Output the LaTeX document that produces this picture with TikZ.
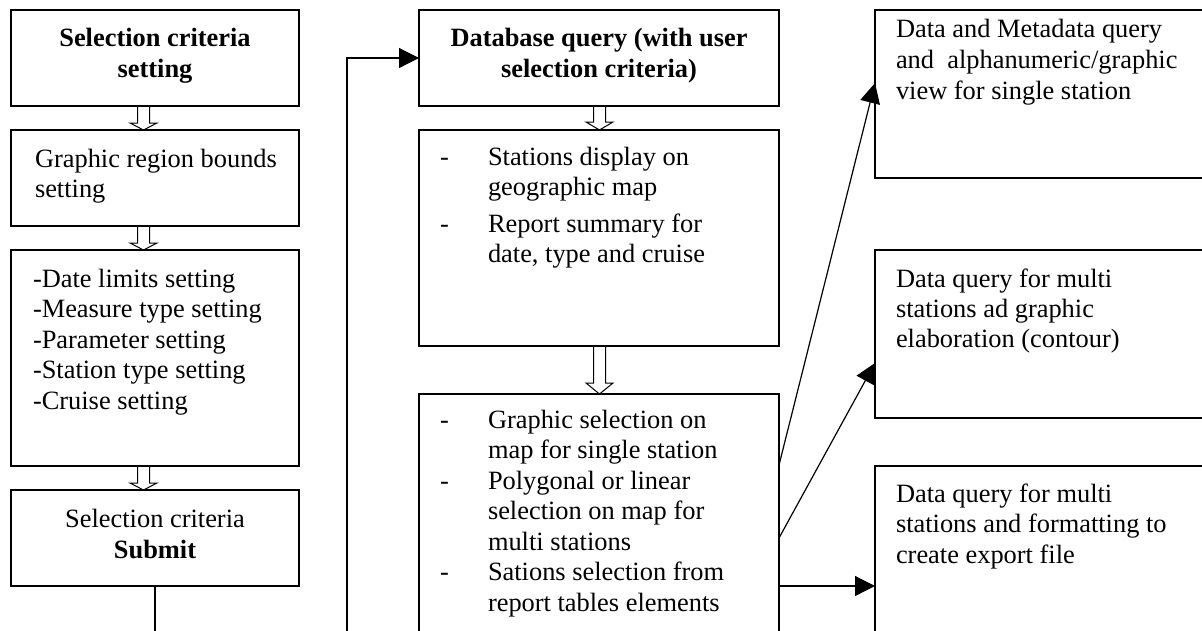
\documentclass[tikz,border=0pt]{standalone}
\usepackage{fontspec}
\setmainfont{Liberation Serif}
\usetikzlibrary{arrows.meta,calc}
\newcommand{\myfs}{\fontsize{26.4}{30.5}\selectfont}
\newcommand{\hollowarrow}[4]{%
  \draw[hol] let \p1=($(#1.south)+(#3,0)$), \p2=(#2.north) in
  (\x1-6pt,\y1) -- (\x1-6pt,\y2+#4pt) -- (\x1-13.5pt,\y2+#4pt) -- (\x1,\y2)
  -- (\x1+13.5pt,\y2+#4pt) -- (\x1+6pt,\y2+#4pt) -- (\x1+6pt,\y1);}
\begin{document}
\begin{tikzpicture}[x=1pt,y=-1pt,
  box/.style={draw, line width=1.2pt, rectangle, inner sep=0pt, outer sep=0pt},
  hol/.style={line width=1pt, line join=miter},
  conn/.style={line width=1.2pt},
  arr/.style={line width=1.2pt, -{Triangle[length=20pt,width=20pt]}},
  txt/.style={inner sep=0pt, outer sep=0pt, font=\myfs, anchor=base west},
  ctxt/.style={inner sep=0pt, outer sep=0pt, font=\myfs, anchor=base},
  btxt/.style={inner sep=0pt, outer sep=0pt, font=\myfs\bfseries, anchor=base}]
\useasboundingbox (0,0) rectangle (1202,630);
\clip (0,0) rectangle (1202,630);
\fill[white] (0,0) rectangle (1202,630);

% left column boxes
\node[box, minimum width=288pt, minimum height=96pt] (b1) at (155,58) {};
\node[box, minimum width=288pt, minimum height=96pt] (b2) at (155,178) {};
\node[box, minimum width=288pt, minimum height=216pt] (b3) at (155,358) {};
\node[box, minimum width=288pt, minimum height=96pt] (b4) at (155,538) {};

% middle column boxes
\node[box, minimum width=360pt, minimum height=96pt] (m1) at (599,58) {};
\node[box, minimum width=360pt, minimum height=216pt] (m2) at (599,238) {};
\node[box, minimum width=360pt, minimum height=266pt] (m3) at (599,527) {};

% right column boxes
\node[box, minimum width=345pt, minimum height=168pt] (r1) at (1047.5,94) {};
\node[box, minimum width=345pt, minimum height=168pt] (r2) at (1047.5,334) {};
\node[box, minimum width=345pt, minimum height=194pt] (r3) at (1047.5,563) {};

% texts left
\node[btxt] (t1a) at (155,46) {Selection criteria};
\node[btxt] (t1b) at (155,77) {setting};
\node[txt] (t2a) at (35,167) {Graphic region bounds};
\node[txt] (t2b) at (35,197.5) {setting};
\node[txt] (t3a) at (33,287) {-Date limits setting};
\node[txt] (t3b) at (33,317.5) {-Measure type setting};
\node[txt] (t3c) at (33,348) {-Parameter setting};
\node[txt] (t3d) at (33,378.5) {-Station type setting};
\node[txt] (t3e) at (33,409) {-Cruise setting};
\node[ctxt] (t4a) at (155,527) {Selection criteria};
\node[btxt] (t4b) at (155,558) {Submit};

% texts middle
\node[btxt] (u1a) at (599,46) {Database query (with user};
\node[btxt] (u1b) at (599,77) {selection criteria)};
\node[txt] (u2d1) at (440,165) {-};
\node[txt] (u2a) at (488,165) {Stations display on};
\node[txt] (u2b) at (488,195.5) {geographic map};
\node[txt] (u2d2) at (440,232) {-};
\node[txt] (u2c) at (488,232) {Report summary for};
\node[txt] (u2e) at (488,262.5) {date, type and cruise};
\node[txt] (u3d1) at (440,428) {-};
\node[txt] (u3a) at (488,428) {Graphic selection on};
\node[txt] (u3b) at (488,458.5) {map for single station};
\node[txt] (u3d2) at (440,489) {-};
\node[txt] (u3c) at (488,489) {Polygonal or linear};
\node[txt] (u3e) at (488,519.5) {selection on map for};
\node[txt] (u3f) at (488,550) {multi stations};
\node[txt] (u3d3) at (440,580.5) {-};
\node[txt] (u3g) at (488,580.5) {Sations selection from};
\node[txt] (u3h) at (488,611) {report tables elements};

% texts right
\node[txt] (v1a) at (896,37) {Data and Metadata query};
\node[txt] (v1b) at (896,68) {and\ \ alphanumeric/graphic};
\node[txt] (v1c) at (896,99) {view for single station};
\node[txt] (v2a) at (896,287) {Data query for multi};
\node[txt] (v2b) at (896,317) {stations ad graphic};
\node[txt] (v2c) at (896,347) {elaboration (contour)};
\node[txt] (v3a) at (896,502) {Data query for multi};
\node[txt] (v3b) at (896,532.5) {stations and formatting to};
\node[txt] (v3c) at (896,563) {create export file};

% hollow arrows
\hollowarrow{b1}{b2}{-11.5}{7}
\hollowarrow{b2}{b3}{-11.5}{7}
\hollowarrow{b3}{b4}{-11.5}{7}
\hollowarrow{m1}{m2}{0.5}{8}
\hollowarrow{m2}{m3}{0.5}{11}

% connectors
\coordinate (b4end) at (155,640);
\draw[conn] (b4.south) -- (b4end);
\coordinate (loopbot) at (347,640);
\coordinate (looptop) at (347,58);
\draw[arr] (loopbot) -- (looptop) -- (m1.west);
\draw[arr] ($(m3.north east)+(0,71)$) -- ($(r1.north west)+(0,73)$);
\draw[arr] ($(m3.north east)+(0,144)$) -- ($(r2.north west)+(0,113)$);
\draw[arr] ($(m3.north east)+(0,192)$) -- ($(r3.north west)+(0,120)$);
\end{tikzpicture}
\end{document}
